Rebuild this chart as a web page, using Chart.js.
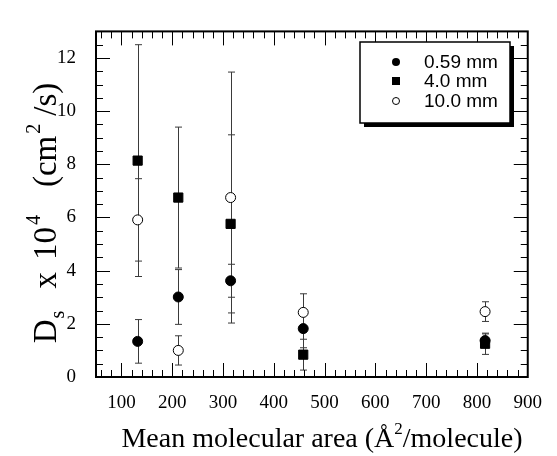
<!DOCTYPE html>
<html>
<head>
<meta charset="utf-8">
<script src="https://cdn.jsdelivr.net/npm/chart.js@4.4.0/dist/chart.umd.min.js"></script>
<style>
html, body { margin: 0; padding: 0; background: #fff; }
</style>
</head>
<body>
<canvas id="dsChart" width="557" height="456"></canvas>
<script>
// mean molecular area (A^2/molecule)
var areas = [132, 212, 315, 458, 816];

// Ds x 10^4 (cm2/s) and error bars, one pair per film thickness
var ds059 = [1.34, 3.01, 3.62, 1.82, 1.37];
var err059 = [0.82, 1.03, 0.62, 0.72, 0.25];
var ds40 = [8.14, 6.75, 5.76, 0.84, 1.25];
var err40 = [4.36, 2.65, 3.35, 0.58, 0.40];
var ds100 = [5.91, 1.00, 6.75, 2.43, 2.46];
var err100 = [1.55, 0.55, 4.72, 0.70, 0.37];

var seriesNames = ['0.59 mm', '4.0 mm', '10.0 mm'];
var xTicks = [100, 200, 300, 400, 500, 600, 700, 800, 900];
var yTicks = [0, 2, 4, 6, 8, 10, 12];

var serif = '"Liberation Serif", "DejaVu Serif", serif';
var sans = '"Liberation Sans", Arial, sans-serif';

function pts(vals) {
    return areas.map(function(a, i) { return { x: a, y: vals[i] }; });
}

var errs = [err059, err40, err100];

// draws a string made of pieces, some raised or lowered, centred on cx
function richText(ctx, parts, cx, y) {
    var total = 0;
    parts.forEach(function(p) {
        ctx.font = p.size + 'px ' + serif;
        p.w = ctx.measureText(p.t).width;
        total += p.w + (p.gap || 0);
    });
    var x = cx - total / 2;
    ctx.textAlign = 'left';
    ctx.textBaseline = 'alphabetic';
    parts.forEach(function(p) {
        ctx.font = p.size + 'px ' + serif;
        x += p.gap || 0;
        ctx.fillText(p.t, x, y + (p.dy || 0));
        x += p.w;
    });
}

var frame = {
    id: 'frame',
    beforeDatasetsDraw: function(chart) {
        var ctx = chart.ctx;
        var xs = chart.scales.x, ys = chart.scales.y;
        ctx.save();
        ctx.strokeStyle = '#3a3a3a';
        ctx.lineWidth = 1;
        chart.data.datasets.forEach(function(d, i) {
            d.data.forEach(function(p, j) {
                var px = Math.round(xs.getPixelForValue(p.x)) + 0.5;
                var top = ys.getPixelForValue(p.y + errs[i][j]);
                var bot = ys.getPixelForValue(p.y - errs[i][j]);
                ctx.beginPath();
                ctx.moveTo(px, top); ctx.lineTo(px, bot);
                ctx.moveTo(px - 3.5, top); ctx.lineTo(px + 3.5, top);
                ctx.moveTo(px - 3.5, bot); ctx.lineTo(px + 3.5, bot);
                ctx.stroke();
            });
        });
        ctx.restore();
    },
    afterDraw: function(chart) {
        var ctx = chart.ctx;
        var a = chart.chartArea;
        var xs = chart.scales.x, ys = chart.scales.y;
        ctx.save();
        ctx.strokeStyle = '#000';

        // inward tick marks on all four sides
        ctx.lineWidth = 1;
        ctx.beginPath();
        for (var v = 60; v < 900; v += 20) {
            var px = Math.round(xs.getPixelForValue(v)) + 0.5;
            var len = (v % 100 === 0) ? 14 : 7;
            ctx.moveTo(px, a.bottom); ctx.lineTo(px, a.bottom - len);
            ctx.moveTo(px, a.top); ctx.lineTo(px, a.top + len);
        }
        for (var w = 0.5; w < 13; w += 0.5) {
            var py = Math.round(ys.getPixelForValue(w)) + 0.5;
            var l2 = (w % 2 === 0) ? 14 : 7;
            ctx.moveTo(a.left, py); ctx.lineTo(a.left + l2, py);
            ctx.moveTo(a.right, py); ctx.lineTo(a.right - l2, py);
        }
        ctx.stroke();

        ctx.lineWidth = 2;
        ctx.strokeRect(a.left, a.top, a.right - a.left, a.bottom - a.top);

        // axis titles
        ctx.fillStyle = '#000';
        richText(ctx, [
            { t: 'Mean molecular area (\u00C5', size: 28 },
            { t: '2', size: 17, dy: -13 },
            { t: '/molecule)', size: 28 }
        ], 322, 447);

        ctx.save();
        ctx.translate(56, 213);
        ctx.rotate(-Math.PI / 2);
        richText(ctx, [
            { t: 'D', size: 33 },
            { t: 's', size: 20, dy: 8, gap: 1 },
            { t: 'x', size: 33, gap: 22 },
            { t: '10', size: 33, gap: 12 },
            { t: '4', size: 20, dy: -16, gap: 2 },
            { t: '(cm', size: 33, gap: 28 },
            { t: '2', size: 20, dy: -16, gap: 2 },
            { t: '/s)', size: 33, gap: 8 }
        ], 0, 0);
        ctx.restore();

        // legend box with drop shadow
        var bx = 360, by = 42, bw = 150, bh = 81;
        ctx.fillStyle = '#000';
        ctx.fillRect(bx + 4, by + 4, bw, bh);
        ctx.fillStyle = '#fff';
        ctx.fillRect(bx, by, bw, bh);
        ctx.lineWidth = 1.5;
        ctx.strokeRect(bx, by, bw, bh);

        var rows = [62, 81, 101];
        ctx.font = '19px ' + sans;
        ctx.textAlign = 'left';
        ctx.textBaseline = 'middle';
        seriesNames.forEach(function(name, i) {
            var my = rows[i], mx = 396;
            ctx.fillStyle = '#000';
            ctx.lineWidth = 1;
            if (i === 0) {
                ctx.beginPath(); ctx.arc(mx, my, 4, 0, Math.PI * 2); ctx.fill();
            } else if (i === 1) {
                ctx.fillRect(mx - 4, my - 4, 8, 8);
            } else {
                ctx.beginPath(); ctx.arc(mx, my, 3.5, 0, Math.PI * 2);
                ctx.fillStyle = '#fff'; ctx.fill(); ctx.stroke();
            }
            ctx.fillStyle = '#000';
            ctx.fillText(name, 424, my + 1);
        });
        ctx.restore();
    }
};

new Chart(document.getElementById('dsChart').getContext('2d'), {
    type: 'scatter',
    data: {
        datasets: [
            { label: seriesNames[0], data: pts(ds059), pointStyle: 'circle', pointRadius: 5,
              backgroundColor: '#000', borderColor: '#000', borderWidth: 1 },
            { label: seriesNames[1], data: pts(ds40), pointStyle: 'rect', pointRadius: 6.5,
              backgroundColor: '#000', borderColor: '#000', borderWidth: 1 },
            { label: seriesNames[2], data: pts(ds100), pointStyle: 'circle', pointRadius: 5,
              backgroundColor: '#fff', borderColor: '#000', borderWidth: 1 }
        ]
    },
    options: {
        responsive: false,
        animation: false,
        devicePixelRatio: 1,
        events: [],
        layout: { padding: { top: 13, right: 14, left: 0, bottom: 0 } },
        plugins: { legend: { display: false }, tooltip: { enabled: false } },
        scales: {
            x: {
                type: 'linear', min: 50, max: 900,
                afterBuildTicks: function(s) { s.ticks = xTicks.map(function(v) { return { value: v }; }); },
                afterFit: function(s) { s.height = 79; },
                grid: { display: false, drawTicks: false },
                border: { display: false },
                ticks: { autoSkip: false, maxRotation: 0, padding: 15, color: '#000',
                         font: { family: serif, size: 19 } }
            },
            y: {
                type: 'linear', min: 0, max: 13,
                afterBuildTicks: function(s) { s.ticks = yTicks.map(function(v) { return { value: v }; }); },
                afterFit: function(s) { s.width = 96; },
                grid: { display: false, drawTicks: false },
                border: { display: false },
                ticks: { autoSkip: false, padding: 20, color: '#000',
                         font: { family: serif, size: 19 } }
            }
        }
    },
    plugins: [frame]
});
</script>
</body>
</html>
